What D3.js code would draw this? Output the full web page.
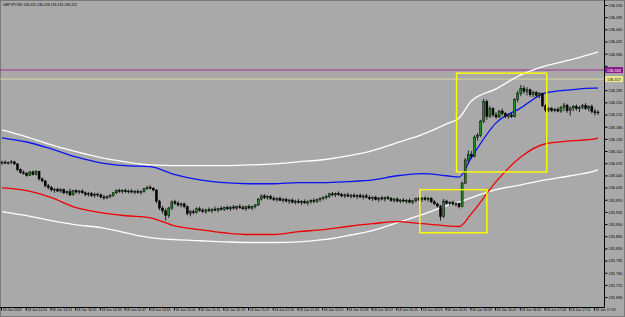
<!DOCTYPE html>
<html>
<head>
<meta charset="utf-8">
<script src="https://cdn.jsdelivr.net/npm/d3@7"></script>
<style>
  html, body { margin: 0; padding: 0; background: #a9a9a9; }
  svg { display: block; }
  text { font-family: "Liberation Sans", Arial, sans-serif; }
</style>
</head>
<body>
<div id="chartContainer"></div>
<script>
// GBPJPY M1, 18 Jun 2019, bars from 14:07
const symbolName = "GBPJPY,M1";

const opens = [
  136.076, 136.078, 136.075, 136.077, 136.079, 136.073, 136.057, 136.048, 136.046, 136.040,
  136.050, 136.043, 136.052, 136.030, 136.024, 136.010, 136.005, 135.998, 136.000, 135.995,
  135.999, 135.990, 135.993, 135.984, 135.996, 135.992, 135.995, 135.990, 135.985, 135.988,
  135.982, 135.986, 135.984, 135.978, 135.975, 135.980, 135.983, 135.990, 135.997, 135.994,
  135.996, 135.993, 135.995, 135.992, 135.994, 135.991, 135.993, 136.002, 136.006, 136.003,
  135.998, 135.966, 135.946, 135.938, 135.925, 135.946, 135.964, 135.960, 135.955, 135.958,
  135.950, 135.930, 135.936, 135.933, 135.944, 135.940, 135.936, 135.941, 135.938, 135.943,
  135.940, 135.945, 135.942, 135.947, 135.944, 135.949, 135.946, 135.950, 135.948, 135.944,
  135.950, 135.946, 135.951, 135.955, 135.972, 135.981, 135.976, 135.979, 135.973, 135.970,
  135.974, 135.968, 135.971, 135.966, 135.969, 135.963, 135.966, 135.962, 135.965, 135.961,
  135.964, 135.968, 135.965, 135.970, 135.974, 135.977, 135.980, 135.987, 135.984, 135.988,
  135.985, 135.981, 135.984, 135.980, 135.983, 135.979, 135.982, 135.978, 135.981, 135.977,
  135.973, 135.977, 135.971, 135.975, 135.972, 135.976, 135.973, 135.968, 135.972, 135.966,
  135.969, 135.966, 135.968, 135.963, 135.967, 135.973, 135.970, 135.975, 135.971, 135.974,
  135.964, 135.958, 135.952, 135.922, 135.966, 135.960, 135.962, 135.957, 135.959, 135.950,
  136.018, 136.084, 136.100, 136.095, 136.150, 136.155, 136.196, 136.252, 136.210, 136.232,
  136.214, 136.208, 136.225, 136.218, 136.210, 136.214, 136.209, 136.258, 136.276, 136.290,
  136.282, 136.286, 136.272, 136.278, 136.270, 136.275, 136.240, 136.228, 136.232, 136.226,
  136.230, 136.225, 136.236, 136.242, 136.226, 136.234, 136.238, 136.232, 136.236, 136.241,
  136.233, 136.238, 136.224, 136.220
];
const highs = [
  136.082, 136.083, 136.080, 136.084, 136.082, 136.075, 136.060, 136.055, 136.050, 136.052,
  136.054, 136.055, 136.053, 136.034, 136.027, 136.016, 136.010, 136.004, 136.005, 136.003,
  136.002, 135.996, 136.002, 135.998, 136.000, 135.998, 136.000, 135.994, 135.993, 135.992,
  135.990, 135.990, 135.988, 135.984, 135.982, 135.986, 135.992, 136.000, 136.002, 136.000,
  136.002, 135.999, 136.001, 135.998, 136.000, 135.997, 136.004, 136.010, 136.012, 136.006,
  136.000, 135.970, 135.952, 135.945, 135.950, 135.968, 135.970, 135.966, 135.962, 135.962,
  135.953, 135.940, 135.942, 135.948, 135.950, 135.946, 135.944, 135.948, 135.945, 135.950,
  135.947, 135.952, 135.950, 135.953, 135.951, 135.955, 135.953, 135.957, 135.954, 135.952,
  135.956, 135.953, 135.958, 135.975, 135.985, 135.986, 135.983, 135.984, 135.980, 135.977,
  135.979, 135.975, 135.976, 135.972, 135.974, 135.970, 135.972, 135.969, 135.971, 135.968,
  135.971, 135.974, 135.973, 135.977, 135.980, 135.984, 135.990, 135.993, 135.991, 135.994,
  135.990, 135.988, 135.990, 135.987, 135.989, 135.986, 135.988, 135.985, 135.987, 135.983,
  135.980, 135.982, 135.978, 135.981, 135.979, 135.982, 135.978, 135.975, 135.977, 135.972,
  135.975, 135.972, 135.974, 135.970, 135.976, 135.979, 135.977, 135.980, 135.978, 135.978,
  135.969, 135.962, 135.955, 135.972, 135.970, 135.966, 135.967, 135.963, 135.962, 136.022,
  136.090, 136.112, 136.110, 136.155, 136.162, 136.200, 136.260, 136.258, 136.240, 136.236,
  136.222, 136.228, 136.232, 136.222, 136.218, 136.220, 136.262, 136.284, 136.300, 136.298,
  136.294, 136.290, 136.284, 136.283, 136.280, 136.278, 136.244, 136.236, 136.237, 136.234,
  136.236, 136.240, 136.248, 136.246, 136.238, 136.242, 136.244, 136.240, 136.245, 136.248,
  136.242, 136.244, 136.232, 136.228
];
const lows = [
  136.070, 136.073, 136.071, 136.072, 136.070, 136.052, 136.045, 136.042, 136.036, 136.038,
  136.040, 136.040, 136.025, 136.020, 136.005, 136.000, 135.994, 135.990, 135.992, 135.990,
  135.986, 135.985, 135.980, 135.982, 135.988, 135.986, 135.987, 135.980, 135.979, 135.978,
  135.976, 135.978, 135.974, 135.970, 135.972, 135.974, 135.978, 135.986, 135.990, 135.988,
  135.990, 135.988, 135.989, 135.986, 135.988, 135.985, 135.990, 135.998, 136.000, 135.994,
  135.960, 135.940, 135.930, 135.910, 135.918, 135.940, 135.955, 135.950, 135.948, 135.945,
  135.925, 135.922, 135.928, 135.930, 135.935, 135.932, 135.930, 135.935, 135.932, 135.937,
  135.934, 135.939, 135.938, 135.940, 135.938, 135.942, 135.940, 135.944, 135.941, 135.938,
  135.943, 135.940, 135.945, 135.952, 135.968, 135.972, 135.970, 135.970, 135.966, 135.964,
  135.966, 135.962, 135.963, 135.958, 135.960, 135.957, 135.959, 135.955, 135.958, 135.954,
  135.958, 135.960, 135.960, 135.964, 135.968, 135.971, 135.975, 135.980, 135.978, 135.981,
  135.977, 135.975, 135.978, 135.974, 135.976, 135.972, 135.975, 135.971, 135.974, 135.969,
  135.966, 135.968, 135.964, 135.968, 135.965, 135.969, 135.964, 135.962, 135.963, 135.960,
  135.962, 135.959, 135.960, 135.957, 135.962, 135.966, 135.964, 135.967, 135.965, 135.960,
  135.955, 135.948, 135.910, 135.918, 135.956, 135.952, 135.954, 135.950, 135.945, 135.948,
  136.015, 136.075, 136.088, 136.092, 136.140, 136.150, 136.190, 136.200, 136.205, 136.208,
  136.203, 136.205, 136.212, 136.205, 136.203, 136.205, 136.206, 136.250, 136.268, 136.275,
  136.270, 136.266, 136.265, 136.264, 136.262, 136.236, 136.222, 136.222, 136.222, 136.221,
  136.222, 136.220, 136.225, 136.220, 136.212, 136.225, 136.226, 136.222, 136.230, 136.228,
  136.224, 136.218, 136.212, 136.214
];
const closes = [
  136.078, 136.075, 136.077, 136.079, 136.073, 136.057, 136.048, 136.046, 136.040, 136.050,
  136.043, 136.052, 136.030, 136.024, 136.010, 136.005, 135.998, 136.000, 135.995, 135.999,
  135.990, 135.993, 135.984, 135.996, 135.992, 135.995, 135.990, 135.985, 135.988, 135.982,
  135.986, 135.984, 135.978, 135.975, 135.980, 135.983, 135.990, 135.997, 135.994, 135.996,
  135.993, 135.995, 135.992, 135.994, 135.991, 135.993, 136.002, 136.006, 136.003, 135.998,
  135.966, 135.946, 135.938, 135.925, 135.946, 135.964, 135.960, 135.955, 135.958, 135.950,
  135.930, 135.936, 135.933, 135.944, 135.940, 135.936, 135.941, 135.938, 135.943, 135.940,
  135.945, 135.942, 135.947, 135.944, 135.949, 135.946, 135.950, 135.948, 135.944, 135.950,
  135.946, 135.951, 135.955, 135.972, 135.981, 135.976, 135.979, 135.973, 135.970, 135.974,
  135.968, 135.971, 135.966, 135.969, 135.963, 135.966, 135.962, 135.965, 135.961, 135.964,
  135.968, 135.965, 135.970, 135.974, 135.977, 135.980, 135.987, 135.984, 135.988, 135.985,
  135.981, 135.984, 135.980, 135.983, 135.979, 135.982, 135.978, 135.981, 135.977, 135.973,
  135.977, 135.971, 135.975, 135.972, 135.976, 135.973, 135.968, 135.972, 135.966, 135.969,
  135.966, 135.968, 135.963, 135.967, 135.973, 135.970, 135.975, 135.971, 135.974, 135.964,
  135.958, 135.952, 135.922, 135.966, 135.960, 135.962, 135.957, 135.959, 135.950, 136.018,
  136.084, 136.100, 136.095, 136.150, 136.155, 136.196, 136.252, 136.210, 136.232, 136.214,
  136.208, 136.225, 136.218, 136.210, 136.214, 136.209, 136.258, 136.276, 136.290, 136.282,
  136.286, 136.272, 136.278, 136.270, 136.275, 136.240, 136.228, 136.232, 136.226, 136.230,
  136.225, 136.236, 136.242, 136.226, 136.234, 136.238, 136.232, 136.236, 136.241, 136.233,
  136.238, 136.224, 136.220, 136.222
];

// indicator lines, read at these bar indices
const lineBars   = [0, 8, 16, 24, 32, 40, 48, 56, 64, 72, 80, 88, 96, 104, 112, 120, 128, 136, 144, 148, 152, 160, 168, 176, 184, 192, 193];
const blueLine   = [136.148, 136.136, 136.116, 136.093, 136.076, 136.068, 136.065, 136.042, 136.027, 136.019, 136.016, 136.016, 136.019, 136.019, 136.022, 136.027, 136.039, 136.045, 136.039, 136.035, 136.091, 136.191, 136.234, 136.277, 136.286, 136.291, 136.291];
const redLine    = [136.004, 135.996, 135.976, 135.947, 135.933, 135.924, 135.918, 135.895, 135.884, 135.875, 135.870, 135.870, 135.878, 135.884, 135.893, 135.901, 135.907, 135.901, 135.895, 135.893, 135.930, 136.022, 136.093, 136.131, 136.139, 136.145, 136.148];
const upperBand  = [136.171, 136.151, 136.128, 136.108, 136.091, 136.079, 136.070, 136.068, 136.068, 136.068, 136.070, 136.073, 136.079, 136.085, 136.096, 136.111, 136.134, 136.157, 136.188, 136.205, 136.254, 136.289, 136.329, 136.355, 136.372, 136.392, 136.395];
const lowerBand  = [135.936, 135.924, 135.910, 135.898, 135.890, 135.875, 135.861, 135.855, 135.852, 135.849, 135.847, 135.847, 135.849, 135.855, 135.867, 135.881, 135.904, 135.927, 135.953, 135.963, 135.976, 135.999, 136.013, 136.027, 136.039, 136.053, 136.056];

// drawn objects: rectangles [bar from, bar to, price top, price bottom], horizontal lines
const boxes = [
  [147.2, 176.4, 136.334, 136.050],
  [135.3, 157.0, 135.999, 135.875]
];
const levelMagenta = 136.343;
const levelYellow = 136.317;

// axis labels
const priceTicks = [136.530, 136.495, 136.460, 136.425, 136.390, 136.355, 136.320, 136.285, 136.250, 136.215,
  136.180, 136.145, 136.110, 136.075, 136.040, 136.005, 135.970, 135.935, 135.900, 135.865,
  135.830, 135.795, 135.760, 135.725, 135.690];
const timeTickBars = [0, 8, 16, 24, 32, 40, 48, 56, 64, 72, 80, 88, 96, 104, 112, 120, 128, 136, 144, 152, 160, 168, 176, 184, 192];
const timeLabels = ["18 Jun 2019", "18 Jun 14:15", "18 Jun 14:23", "18 Jun 14:31", "18 Jun 14:39", "18 Jun 14:47",
  "18 Jun 14:55", "18 Jun 15:03", "18 Jun 15:11", "18 Jun 15:19", "18 Jun 15:27", "18 Jun 15:35", "18 Jun 15:43",
  "18 Jun 15:51", "18 Jun 15:59", "18 Jun 16:07", "18 Jun 16:15", "18 Jun 16:23", "18 Jun 16:31", "18 Jun 16:39",
  "18 Jun 16:47", "18 Jun 16:55", "18 Jun 17:03", "18 Jun 17:11", "18 Jun 17:19"];

const svgWidth = 625, svgHeight = 317;
const plotRight = 604, plotBottom = 307;

const svg = d3.select("#chartContainer").append("svg")
  .attr("width", svgWidth)
  .attr("height", svgHeight);

svg.append("rect")
  .attr("x", 0.5).attr("y", 0.5)
  .attr("width", svgWidth - 1).attr("height", svgHeight - 1)
  .attr("fill", "#a9a9a9")
  .attr("stroke", "#7a7a7a");

const x = d3.scaleLinear().domain([0, closes.length - 1]).range([2, 598]);
const y = d3.scaleLinear().domain([d3.min(priceTicks), d3.max(priceTicks)]).range([297.1, 5]);

const plot = svg.append("g");

// horizontal levels
plot.append("line")
  .attr("x1", 0).attr("x2", plotRight)
  .attr("y1", y(levelMagenta)).attr("y2", y(levelMagenta))
  .attr("stroke", "#a0309a").attr("stroke-width", 1);
plot.append("line")
  .attr("x1", 0).attr("x2", plotRight)
  .attr("y1", y(levelYellow)).attr("y2", y(levelYellow))
  .attr("stroke", "#e6dea0").attr("stroke-width", 0.8);

// indicator lines
const lineGen = values => d3.line()
  .x((d, k) => x(lineBars[k]))
  .y(d => y(d))
  .curve(d3.curveMonotoneX)(values);

[[upperBand, "#ffffff"], [lowerBand, "#ffffff"], [blueLine, "#0a14f0"], [redLine, "#f00000"]].forEach(function(s) {
  plot.append("path")
    .attr("d", lineGen(s[0]))
    .attr("fill", "none")
    .attr("stroke", s[1])
    .attr("stroke-width", 1.3);
});

// candles
const bars = closes.map((c, i) => ({ i: i, o: opens[i], h: highs[i], l: lows[i], c: c }));

plot.selectAll(".wick")
  .data(bars)
  .enter().append("line")
  .attr("class", "wick")
  .attr("x1", d => x(d.i)).attr("x2", d => x(d.i))
  .attr("y1", d => y(d.h)).attr("y2", d => y(d.l))
  .attr("stroke", "#000")
  .attr("stroke-width", 0.8);

plot.selectAll(".body")
  .data(bars)
  .enter().append("rect")
  .attr("class", "body")
  .attr("x", d => x(d.i) - 1)
  .attr("y", d => y(Math.max(d.o, d.c)))
  .attr("width", 2)
  .attr("height", d => Math.max(0.8, Math.abs(y(d.o) - y(d.c))))
  .attr("fill", d => d.c > d.o ? "#1e8c1e" : "#000")
  .attr("stroke", "#000")
  .attr("stroke-width", 0.5);

// rectangles
plot.selectAll(".box")
  .data(boxes)
  .enter().append("rect")
  .attr("class", "box")
  .attr("x", d => x(d[0]))
  .attr("y", d => y(d[2]))
  .attr("width", d => x(d[1]) - x(d[0]))
  .attr("height", d => y(d[3]) - y(d[2]))
  .attr("fill", "none")
  .attr("stroke", "#ffff00")
  .attr("stroke-width", 1.4);

// axes frame
svg.append("line")
  .attr("x1", plotRight + 0.5).attr("x2", plotRight + 0.5)
  .attr("y1", 0).attr("y2", plotBottom + 0.5)
  .attr("stroke", "#000").attr("stroke-width", 1);
svg.append("line")
  .attr("x1", 0).attr("x2", plotRight + 0.5)
  .attr("y1", plotBottom + 0.5).attr("y2", plotBottom + 0.5)
  .attr("stroke", "#000").attr("stroke-width", 1);

// price axis
const yAxis = svg.append("g")
  .attr("transform", `translate(${plotRight + 0.5},0)`)
  .call(d3.axisRight(y).tickValues(priceTicks).tickSize(3).tickPadding(1).tickFormat(d3.format(".3f")));
yAxis.select(".domain").remove();
yAxis.selectAll("text")
  .style("font-size", "4.3px")
  .attr("textLength", 14)
  .attr("lengthAdjust", "spacingAndGlyphs")
  .attr("fill", "#000");
// the level labels sit on top of nearby tick labels
yAxis.selectAll(".tick")
  .filter(d => Math.abs(y(d) - y(levelYellow)) < 5 || Math.abs(y(d) - y(levelMagenta)) < 5)
  .select("text").remove();

// time axis
const xAxis = svg.append("g")
  .attr("transform", `translate(0,${plotBottom + 0.5})`)
  .call(d3.axisBottom(x).tickValues(timeTickBars).tickSize(3).tickFormat((d, k) => timeLabels[k]));
xAxis.select(".domain").remove();
xAxis.selectAll("line").attr("transform", "translate(-1,0)");
xAxis.selectAll("text")
  .attr("text-anchor", "start")
  .attr("x", 0)
  .attr("dy", "0.2em")
  .attr("y", 3)
  .style("font-size", "4.1px")
  .attr("textLength", d => d === 0 ? 19 : 20)
  .attr("lengthAdjust", "spacingAndGlyphs")
  .attr("fill", "#000");

// coloured price labels on the axis
[[levelMagenta, "#8b1a8b", "#ffffff"], [levelYellow, "#f0e68c", "#000000"]].forEach(function(m) {
  svg.append("rect")
    .attr("x", plotRight + 1).attr("y", y(m[0]) - 3)
    .attr("width", 18).attr("height", 6)
    .attr("fill", m[1]);
  svg.append("text")
    .attr("x", plotRight + 3).attr("y", y(m[0]) + 1.5)
    .style("font-size", "4.3px")
    .attr("textLength", 14)
    .attr("lengthAdjust", "spacingAndGlyphs")
    .attr("fill", m[2])
    .text(d3.format(".3f")(m[0]));
});

// title
const last = bars[bars.length - 1];
svg.append("text")
  .attr("x", 3).attr("y", 6)
  .style("font-size", "4.3px")
  .attr("textLength", 74)
  .attr("lengthAdjust", "spacingAndGlyphs")
  .attr("fill", "#000")
  .text(`${symbolName}  ${[last.o, last.h, last.l, last.c].map(d3.format(".3f")).join(" ")}`);
</script>
</body>
</html>
